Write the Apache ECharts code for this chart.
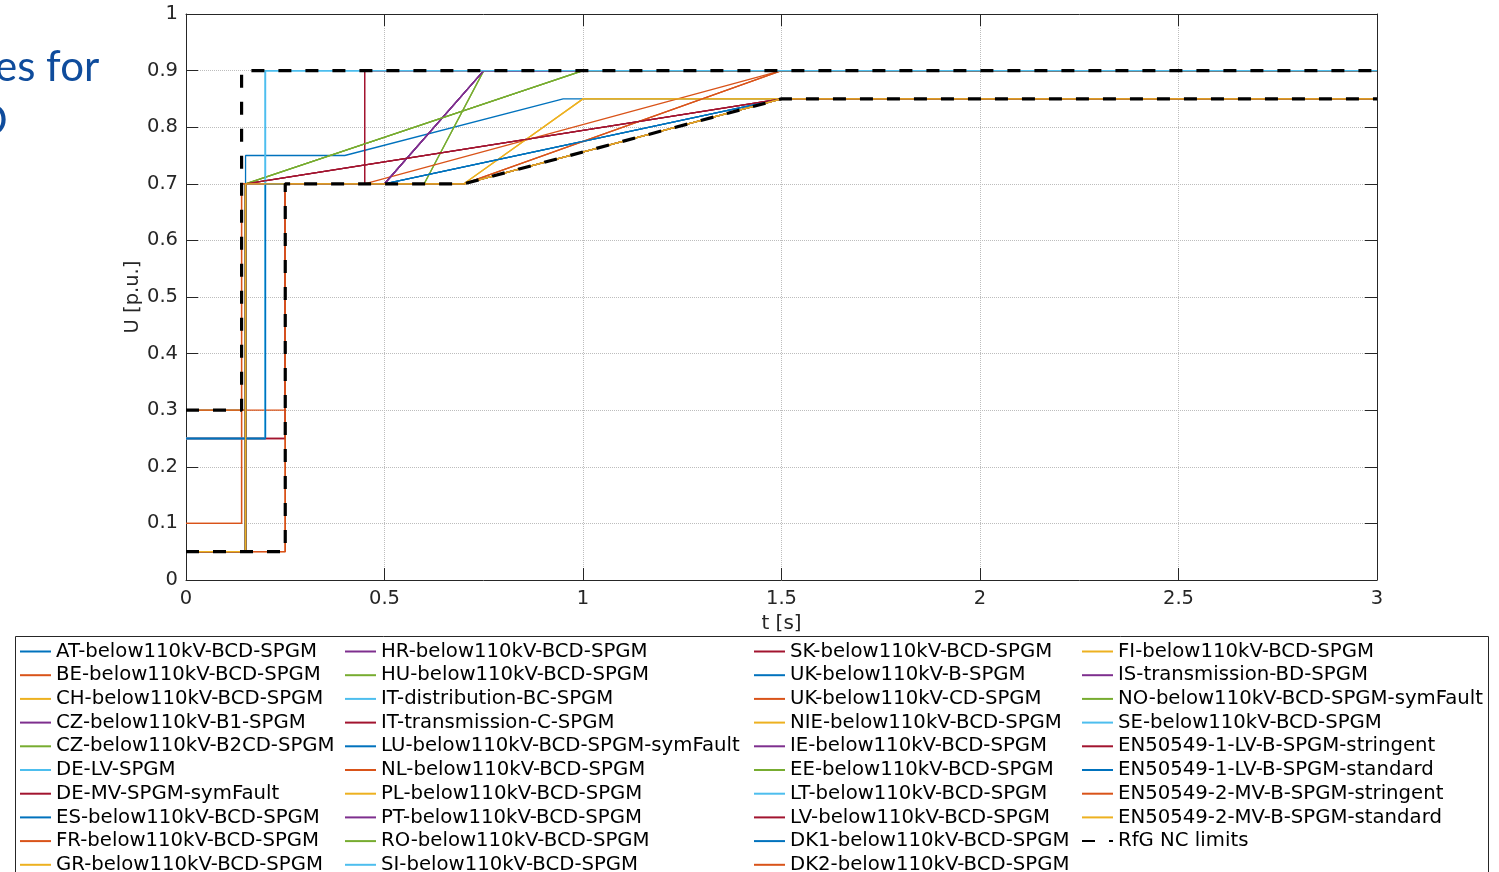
<!DOCTYPE html>
<html>
<head>
<meta charset="utf-8">
<title>FRT curves</title>
<script src="https://cdn.jsdelivr.net/npm/echarts@6.0.0/dist/echarts.min.js"></script>
<style>
  html, body { margin: 0; padding: 0; background: #ffffff; }
  #chart { width: 1499px; height: 872px; }
</style>
</head>
<body>
<div id="chart"></div>
<script>
// Fault-ride-through voltage profiles: each curve is a list of [t (s), U (p.u.)] corner points.
const AT  = [[0,0.3],[0.15,0.3],[0.15,0.75],[0.4,0.75],[0.95,0.85],[3,0.85]];
const BE  = [[0,0.1],[0.14,0.1],[0.14,0.7],[0.7,0.7],[1.5,0.9],[3,0.9]];
const CH  = [[0,0.3],[0.15,0.3],[0.15,0.7],[0.7,0.7],[1.0,0.85],[3,0.85]];
const CZ1 = [[0,0.05],[0.15,0.05],[0.15,0.7],[0.5,0.7],[0.75,0.9],[3,0.9]];
const CZ2 = [[0,0.05],[0.15,0.05],[0.15,0.7],[0.6,0.7],[0.75,0.9],[3,0.9]];
const DELV = [[0,0.25],[0.2,0.25],[0.2,0.9],[3,0.9]];
const DEMV = [[0,0.05],[0.15,0.05],[0.15,0.7],[1.5,0.85],[3,0.85]];
const ES  = [[0,0.25],[0.2,0.25],[0.2,0.7],[0.7,0.7],[1.5,0.85],[3,0.85]];
const FR  = [[0,0.05],[0.25,0.05],[0.25,0.7],[0.7,0.7],[1.5,0.85],[3,0.85]];
const GR  = [[0,0.05],[0.15,0.05],[0.15,0.7],[0.7,0.7],[1.5,0.85],[3,0.85]];
const HR  = [[0,0.05],[0.15,0.05],[0.15,0.7],[0.5,0.7],[0.75,0.9],[3,0.9]];
const HU  = [[0,0.05],[0.15,0.05],[0.15,0.7],[0.6,0.7],[0.75,0.9],[3,0.9]];
const ITD = [[0,0.25],[0.2,0.25],[0.2,0.9],[3,0.9]];
const ITT = [[0,0.05],[0.15,0.05],[0.15,0.7],[1.5,0.85],[3,0.85]];
const LU  = [[0,0.05],[0.15,0.05],[0.15,0.7],[0.5,0.7],[1.5,0.85],[3,0.85]];
const NL  = [[0,0.1],[0.14,0.1],[0.14,0.7],[0.45,0.7],[1.5,0.9],[3,0.9]];
const PL  = [[0,0.05],[0.15,0.05],[0.15,0.7],[0.7,0.7],[1.0,0.85],[3,0.85]];
const PT  = [[0,0.05],[0.15,0.05],[0.15,0.7],[0.5,0.7],[0.75,0.9],[3,0.9]];
const RO  = [[0,0.05],[0.15,0.05],[0.15,0.7],[1.0,0.9],[3,0.9]];
const SI  = [[0,0.25],[0.2,0.25],[0.2,0.9],[3,0.9]];
const SK  = [[0,0.25],[0.25,0.25],[0.25,0.7],[0.45,0.7],[0.45,0.9],[3,0.9]];
const UKB = [[0,0.05],[0.15,0.05],[0.15,0.7],[0.5,0.7],[1.5,0.85],[3,0.85]];
const UKCD = [[0,0.3],[0.25,0.3],[0.25,0.7],[0.7,0.7],[1.5,0.9],[3,0.9]];
const NIE = [[0,0.05],[0.15,0.05],[0.15,0.7],[0.7,0.7],[1.5,0.85],[3,0.85]];
const IE  = [[0,0.05],[0.15,0.05],[0.15,0.7],[0.5,0.7],[0.75,0.9],[3,0.9]];
const EE  = [[0,0.05],[0.15,0.05],[0.15,0.7],[1.0,0.9],[3,0.9]];
const LT  = [[0,0.25],[0.2,0.25],[0.2,0.9],[3,0.9]];
const LV  = [[0,0.25],[0.25,0.25],[0.25,0.7],[0.45,0.7],[0.45,0.9],[3,0.9]];
const DK1 = [[0,0.05],[0.15,0.05],[0.15,0.7],[0.5,0.7],[1.5,0.85],[3,0.85]];
const DK2 = [[0,0.05],[0.25,0.05],[0.25,0.7],[0.7,0.7],[1.5,0.85],[3,0.85]];
const FI  = [[0,0.05],[0.15,0.05],[0.15,0.7],[0.7,0.7],[1.5,0.85],[3,0.85]];
const IS  = [[0,0.05],[0.15,0.05],[0.15,0.7],[0.5,0.7],[0.75,0.9],[3,0.9]];
const NO  = [[0,0.05],[0.15,0.05],[0.15,0.7],[1.0,0.9],[3,0.9]];
const SE  = [[0,0.25],[0.2,0.25],[0.2,0.9],[3,0.9]];
const EN1STR = [[0,0.05],[0.15,0.05],[0.15,0.7],[1.5,0.85],[3,0.85]];
const EN1STD = [[0,0.25],[0.2,0.25],[0.2,0.7],[0.7,0.7],[1.5,0.85],[3,0.85]];
const EN2STR = [[0,0.05],[0.25,0.05],[0.25,0.7],[0.7,0.7],[1.5,0.85],[3,0.85]];
const EN2STD = [[0,0.05],[0.15,0.05],[0.15,0.7],[0.7,0.7],[1.5,0.85],[3,0.85]];
// Network-code envelope: upper and lower limit, separated by a gap point
const RFG = [[0,0.3],[0.14,0.3],[0.14,0.9],[3,0.9],['-','-'],
             [0,0.05],[0.25,0.05],[0.25,0.7],[0.7,0.7],[1.5,0.85],[3,0.85]];

const curveNames = [
  'AT-below110kV-BCD-SPGM','BE-below110kV-BCD-SPGM','CH-below110kV-BCD-SPGM','CZ-below110kV-B1-SPGM',
  'CZ-below110kV-B2CD-SPGM','DE-LV-SPGM','DE-MV-SPGM-symFault','ES-below110kV-BCD-SPGM',
  'FR-below110kV-BCD-SPGM','GR-below110kV-BCD-SPGM','HR-below110kV-BCD-SPGM','HU-below110kV-BCD-SPGM',
  'IT-distribution-BC-SPGM','IT-transmission-C-SPGM','LU-below110kV-BCD-SPGM-symFault','NL-below110kV-BCD-SPGM',
  'PL-below110kV-BCD-SPGM','PT-below110kV-BCD-SPGM','RO-below110kV-BCD-SPGM','SI-below110kV-BCD-SPGM',
  'SK-below110kV-BCD-SPGM','UK-below110kV-B-SPGM','UK-below110kV-CD-SPGM','NIE-below110kV-BCD-SPGM',
  'IE-below110kV-BCD-SPGM','EE-below110kV-BCD-SPGM','LT-below110kV-BCD-SPGM','LV-below110kV-BCD-SPGM',
  'DK1-below110kV-BCD-SPGM','DK2-below110kV-BCD-SPGM','FI-below110kV-BCD-SPGM','IS-transmission-BD-SPGM',
  'NO-below110kV-BCD-SPGM-symFault','SE-below110kV-BCD-SPGM','EN50549-1-LV-B-SPGM-stringent',
  'EN50549-1-LV-B-SPGM-standard','EN50549-2-MV-B-SPGM-stringent','EN50549-2-MV-B-SPGM-standard'
];
const curveData = [AT, BE, CH, CZ1, CZ2, DELV, DEMV, ES, FR, GR, HR, HU, ITD, ITT, LU, NL, PL, PT, RO, SI,
  SK, UKB, UKCD, NIE, IE, EE, LT, LV, DK1, DK2, FI, IS, NO, SE, EN1STR, EN1STD, EN2STR, EN2STD];
const limitName = 'RfG NC limits';

const palette = ['#0072BD', '#D95319', '#EDB120', '#7E2F8E', '#77AC30', '#4DBEEE', '#A2142F'];
const FONT = 'DejaVu Sans';
const INK = '#262626';

const series = curveNames.map((name, i) => ({
  name: name,
  type: 'line',
  data: curveData[i],
  symbol: 'none',
  showSymbol: false,
  silent: true,
  animation: false,
  emphasis: { disabled: true },
  itemStyle: { color: palette[i % 7] },
  lineStyle: { color: palette[i % 7], width: 1.3 }
}));
series.push({
  name: limitName,
  type: 'line',
  data: RFG,
  symbol: 'none',
  showSymbol: false,
  connectNulls: false,
  silent: true,
  animation: false,
  z: 5,
  itemStyle: { color: '#000000' },
  lineStyle: { color: '#000000', width: 3.2, type: [13, 14] }
});

const allNames = curveNames.concat([limitName]);
const columns = [allNames.slice(0, 10), allNames.slice(10, 20), allNames.slice(20, 30), allNames.slice(30)];
const columnLeft = [19, 344, 753, 1081];

const legends = columns.map((col, k) => ({
  data: col,
  orient: 'vertical',
  left: columnLeft[k],
  top: 641.5,
  height: 260,
  itemWidth: 31,
  itemHeight: 12,
  itemGap: 3.7,
  padding: 0,
  selectedMode: false,
  itemStyle: { opacity: 0, borderWidth: 0 },
  textStyle: { fontFamily: FONT, fontSize: 19.7, color: '#000000', lineHeight: 20 }
}));

const axisCommon = {
  type: 'value',
  axisLine: { show: true, onZero: false, lineStyle: { color: INK, width: 1 } },
  axisTick: { show: true, inside: true, length: 12, lineStyle: { color: INK, width: 1 } }
};

const option = {
  backgroundColor: '#ffffff',
  animation: false,
  grid: { left: 186, top: 14, width: 1191, height: 566 },
  legend: legends,
  xAxis: [
    Object.assign({}, axisCommon, {
      min: 0, max: 3, interval: 0.5, position: 'bottom',
      name: 't [s]', nameLocation: 'middle', nameGap: 34, nameMoveOverlap: false,
      nameTextStyle: { fontFamily: FONT, fontSize: 20, color: INK },
      axisLabel: { fontFamily: FONT, fontSize: 19.5, color: INK, margin: 9 },
      splitLine: { show: true, lineStyle: { color: '#bdbdbd', type: 'dotted', width: 1 } }
    }),
    Object.assign({}, axisCommon, {
      min: 0, max: 3, interval: 0.5, position: 'top',
      axisLabel: { show: false }, splitLine: { show: false }
    })
  ],
  yAxis: [
    Object.assign({}, axisCommon, {
      min: 0, max: 1, interval: 0.1, position: 'left',
      name: 'U [p.u.]', nameLocation: 'middle', nameGap: 43, nameMoveOverlap: false,
      nameTextStyle: { fontFamily: FONT, fontSize: 19.5, color: INK },
      axisLabel: { fontFamily: FONT, fontSize: 19.5, color: INK, margin: 8 },
      splitLine: { show: true, lineStyle: { color: '#bdbdbd', type: 'dotted', width: 1 } }
    }),
    Object.assign({}, axisCommon, {
      min: 0, max: 1, interval: 0.1, position: 'right',
      axisLabel: { show: false }, splitLine: { show: false }
    })
  ],
  graphic: [
    {
      type: 'rect', z: 0, silent: true,
      shape: { x: 15.5, y: 636.5, width: 1473, height: 260 },
      style: { fill: '#ffffff', stroke: INK, lineWidth: 1 }
    },
    {
      type: 'text', x: -5, y: 88, silent: true,
      style: { text: 'es for', fontFamily: 'Lato', fontSize: 42, fill: '#0f4c9c', verticalAlign: 'bottom' }
    },
    {
      type: 'text', x: -26, y: 142, silent: true,
      style: { text: 'O', fontFamily: 'Lato', fontSize: 42, fill: '#0f4c9c', verticalAlign: 'bottom' }
    }
  ],
  series: series
};

const chart = echarts.init(document.getElementById('chart'), null, { renderer: 'canvas' });
chart.setOption(option);
</script>
</body>
</html>
